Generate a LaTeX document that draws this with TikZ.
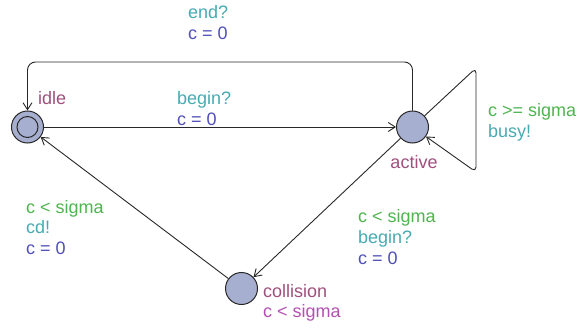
\documentclass[tikz,border=0pt]{standalone}
\usepackage{fontspec}
\setmainfont{Liberation Sans}
\usetikzlibrary{arrows.meta}
\definecolor{locfill}{RGB}{167,175,208}
\definecolor{namecol}{RGB}{160,80,125}
\definecolor{invcol}{RGB}{180,80,180}
\definecolor{guardcol}{RGB}{80,180,80}
\definecolor{synccol}{RGB}{72,170,178}
\definecolor{assigncol}{RGB}{80,80,184}
\definecolor{linecol}{RGB}{40,40,40}
\tikzset{
  loc/.style={circle, draw=linecol, line width=1pt, fill=locfill, minimum size=32pt, inner sep=0pt},
  edge/.style={draw=linecol, line width=0.9pt, -{Straight Barb[length=7pt,width=9pt]}},
  lbltext/.style={inner sep=0pt, anchor=base west, font=\fontsize{18}{20}\selectfont},
  locname/.style={lbltext, text=namecol},
  locinv/.style={lbltext, text=invcol},
  guardlbl/.style={lbltext, text=guardcol},
  synclbl/.style={lbltext, text=synccol},
  assignlbl/.style={lbltext, text=assigncol}
}
\begin{document}
\begin{tikzpicture}[x=1pt,y=-1pt]
\useasboundingbox[fill=white] (0,0) rectangle (581,329);
% locations
\node[loc] (idle) at (27.5,127) {};
\draw[linecol, line width=1pt] (idle.center) circle (10.5pt);
\node[loc] (active) at (412.5,127) {};
\node[loc] (collision) at (241.5,288.5) {};
% names
\node[locname] (nidle) at (38,104) {idle};
\node[locname, anchor=base] (nactive) at (414,168) {active};
\node[locname] (ncoll) at (263,297) {collision};
\node[locinv] (icoll) at (263,317) {c < sigma};
% corners
\coordinate (c1) at (412.5,62);
\coordinate (c2) at (27.5,62);
\coordinate (s1) at (476,68);
\coordinate (s2) at (476,172);
% edges
\draw[edge] (idle) -- (active);
\draw[edge, rounded corners=8pt] (active) -- (c1) -- (c2) -- (idle);
\draw[edge, rounded corners=5pt] (active) -- (s1) -- (s2) -- (active);
\draw[edge] (active) -- (collision);
\draw[edge] (collision) -- (idle);
% labels top loop
\node[synclbl] (l1a) at (188,19) {end?};
\node[assignlbl] (l1b) at (188,40) {c = 0};
% labels idle->active
\node[synclbl] (l2a) at (177,104) {begin?};
\node[assignlbl] (l2b) at (177,125) {c = 0};
% self loop
\node[guardlbl] (l3a) at (488,117) {c >= sigma};
\node[synclbl] (l3b) at (488,137) {busy!};
% active->collision
\node[guardlbl] (l4a) at (358,222) {c < sigma};
\node[synclbl] (l4b) at (358,243) {begin?};
\node[assignlbl] (l4c) at (358,264) {c = 0};
% collision->idle
\node[guardlbl] (l5a) at (26,213) {c < sigma};
\node[synclbl] (l5b) at (26,233) {cd!};
\node[assignlbl] (l5c) at (26,254) {c = 0};
\end{tikzpicture}
\end{document}
